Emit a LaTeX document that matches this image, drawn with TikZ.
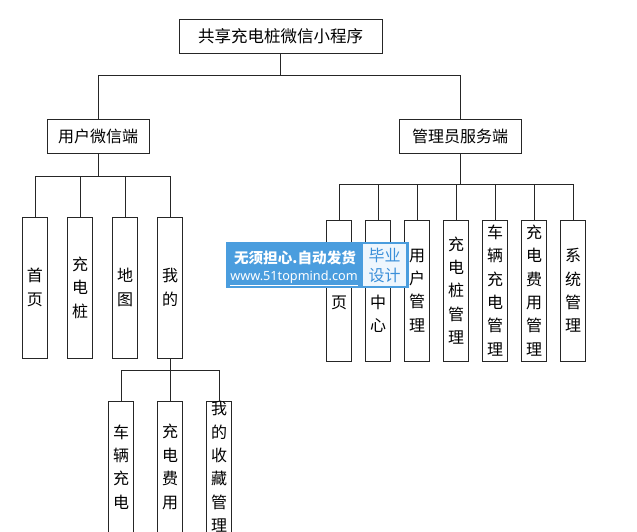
\documentclass[tikz,border=0pt]{standalone}
\usepackage{fontspec}
\setmainfont{Noto Sans CJK SC}
\newfontfamily\wmlatin{Noto Sans}
\definecolor{wmblue}{HTML}{4A9DDE}
\definecolor{wmpale}{HTML}{EEF6FD}
\definecolor{wmtext}{HTML}{3A8FD9}
\begin{document}
\begin{tikzpicture}[x=1pt,y=-1pt,
  box/.style={draw=black!85, line width=0.9pt, fill=white, inner sep=0pt, align=center},
  vbox/.style={box, minimum width=24.5pt, minimum height=141pt, font=\fontsize{16}{23.4}\selectfont},
  hbox/.style={box, minimum height=34pt, font=\fontsize{16}{20}\selectfont},
  conn/.style={draw=black!85, line width=0.9pt}]
\useasboundingbox (0,0) rectangle (637,531);
\clip (0,0) rectangle (637,531);
\fill[white] (0,0) rectangle (637,531);

% top levels
\node[hbox, minimum width=203pt, font=\fontsize{16.5}{20}\selectfont] (root) at (280.5,36) {共享充电桩微信小程序};
\node[hbox, minimum width=102pt] (user) at (98,136) {用户微信端};
\node[hbox, minimum width=122pt] (admin) at (460,136) {管理员服务端};

% user side
\node[vbox] (u1) at (35,287.5) {首\\页};
\node[vbox] (u2) at (80,287.5) {充\\电\\桩};
\node[vbox] (u3) at (125,287.5) {地\\图};
\node[vbox] (u4) at (170,287.5) {我\\的};

\node[vbox, minimum height=132pt] (g1) at (121,467) {车\\辆\\充\\电};
\node[vbox, minimum height=132pt] (g2) at (170,467) {充\\电\\费\\用};
\node[vbox, minimum height=132pt] (g3) at (219,467) {我\\的\\收\\藏\\管\\理};

% admin side
\node[vbox] (a1) at (339,290.5) {首\\页};
\node[vbox] (a2) at (378,290.5) {个\\人\\中\\心};
\node[vbox] (a3) at (417,290.5) {用\\户\\管\\理};
\node[vbox] (a4) at (456,290.5) {充\\电\\桩\\管\\理};
\node[vbox] (a5) at (495,290.5) {车\\辆\\充\\电\\管\\理};
\node[vbox] (a6) at (534,290.5) {充\\电\\费\\用\\管\\理};
\node[vbox] (a7) at (573,290.5) {系\\统\\管\\理};

% connectors
\coordinate (bus0) at (0,75);
\coordinate (bus1) at (0,176);
\coordinate (bus2) at (0,184);
\coordinate (bus3) at (0,370);
\draw[conn] (root.south) -- (root.south |- bus0) -| (user.north);
\draw[conn] (root.south |- bus0) -| (admin.north);
\draw[conn] (user.south) -- (user.south |- bus1);
\foreach \c in {u1,u2,u3,u4} \draw[conn] (user.south |- bus1) -| (\c.north);
\draw[conn] (admin.south) -- (admin.south |- bus2);
\foreach \c in {a1,a2,a3,a4,a5,a6,a7} \draw[conn] (admin.south |- bus2) -| (\c.north);
\draw[conn] (u4.south) -- (u4.south |- bus3);
\foreach \c in {g1,g2,g3} \draw[conn] (u4.south |- bus3) -| (\c.north);

% watermark overlay
\fill[wmblue] (226,242) rectangle (409,288);
\filldraw[fill=wmpale, draw=wmblue, line width=1.5pt] (362,243) rectangle (407,287);
\node[text=white, font=\bfseries\fontsize{14.6}{16}\selectfont, inner sep=0pt] (wm1) at (295,258) {无须担心.自动发货};
\node[text=white, font=\wmlatin\bfseries\fontsize{12.7}{14}\selectfont, inner sep=0pt] (wm2) at (294,278) {\underline{www.51topmind.com}};
\node[text=wmtext, font=\fontsize{16}{20}\selectfont, inner sep=0pt, align=center] (wm3) at (384.5,265.5) {毕业\\设计};
\end{tikzpicture}
\end{document}
